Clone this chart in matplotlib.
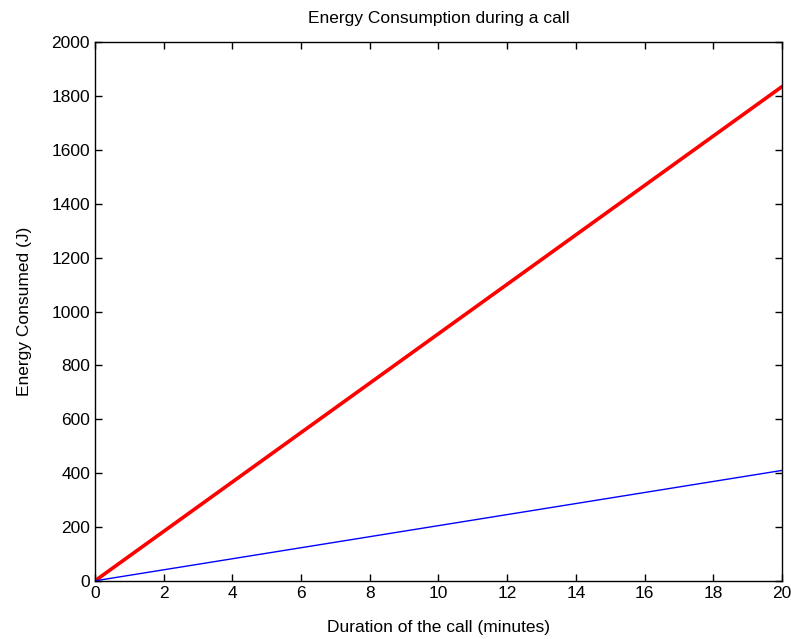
import matplotlib
matplotlib.use('Agg')
import matplotlib.pyplot as plt

# call duration (minutes) and energy consumed (J)
minutes = [0, 20]
energy_red = [0, 1835]
energy_blue = [0, 410]

plt.rcParams['font.family'] = ['Liberation Sans', 'DejaVu Sans']

fig = plt.figure(figsize=(7.91, 6.39), dpi=100)
ax = fig.add_axes([0.120, 0.091, 0.8686, 0.843])

ax.plot(minutes, energy_red, color='#ff0000', linewidth=2.6, solid_capstyle='round')
ax.plot(minutes, energy_blue, color='#0000ff', linewidth=1.0)

ax.set_xlim(0, 20)
ax.set_ylim(0, 2000)
ax.set_xticks(range(0, 21, 2))
ax.set_yticks(range(0, 2001, 200))
ax.tick_params(direction='in', top=True, right=True, length=5, labelsize=12.5, width=1)
for s in ax.spines.values():
    s.set_linewidth(1)

ax.set_title('Energy Consumption during a call', fontsize=12.5, pad=14)
ax.set_xlabel('Duration of the call (minutes)', fontsize=12.5, labelpad=14)
ax.set_ylabel('Energy Consumed (J)', fontsize=12.5, labelpad=14)

fig.savefig('out.png', dpi=100)
